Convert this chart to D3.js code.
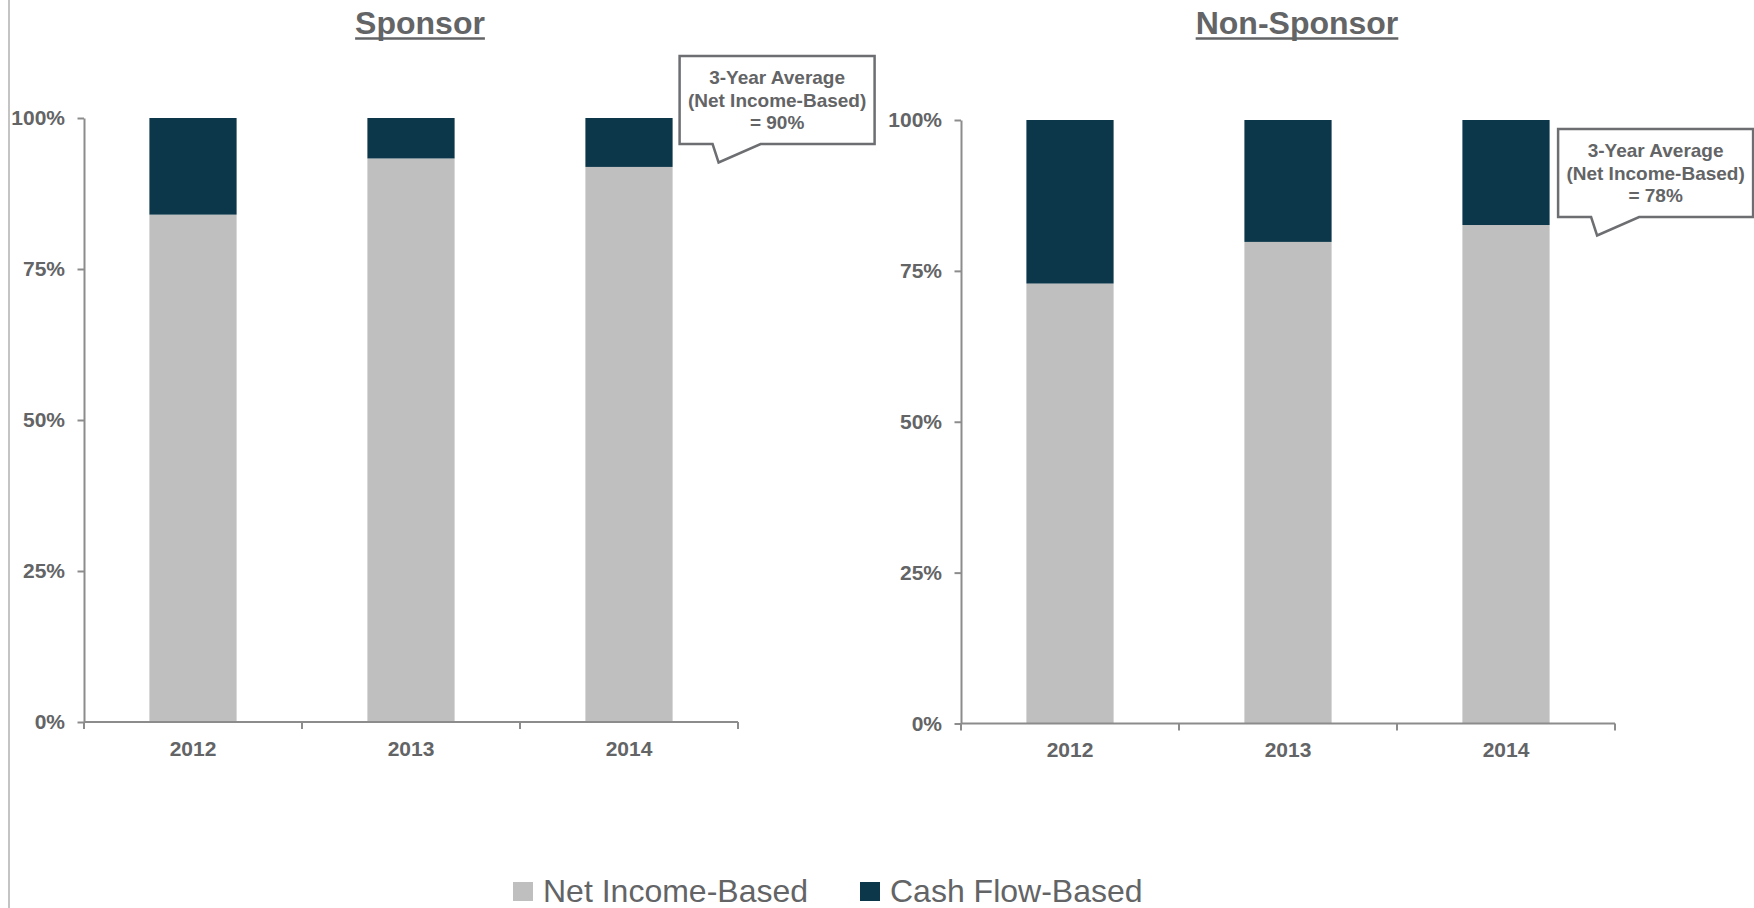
<!DOCTYPE html>
<html>
<head>
<meta charset="utf-8">
<script src="https://cdn.jsdelivr.net/npm/d3@7"></script>
<style>
  html, body { margin: 0; padding: 0; background: #ffffff; }
  svg { display: block; }
  text { font-family: "Liberation Sans", Arial, Helvetica, sans-serif; }
</style>
</head>
<body>
<svg id="chart" width="1754" height="908"></svg>
<script>
// ---- Data -------------------------------------------------------------
const years = ["2012", "2013", "2014"];
const seriesNames = ["Net Income-Based", "Cash Flow-Based"];

// Share of deals by covenant basis (%)
const sponsorNetIncome    = [84.0, 93.3, 91.9];
const sponsorCashFlow     = [16.0, 6.7, 8.1];
const nonSponsorNetIncome = [72.9, 79.8, 82.6];
const nonSponsorCashFlow  = [27.1, 20.2, 17.4];

const yTicks = [0, 25, 50, 75, 100];

// ---- Style ------------------------------------------------------------
const colors = { "Net Income-Based": "#bfbfbf", "Cash Flow-Based": "#0c3649" };
const textColor = "#636466";
const axisColor = "#8c8c8c";
const calloutStroke = "#6d6e71";

const svg = d3.select("#chart");

// Thin frame line on the left edge of the page
svg.append("line")
  .attr("x1", 9).attr("x2", 9).attr("y1", 0).attr("y2", 908)
  .attr("stroke", "#c4c4c4").attr("stroke-width", 2);

const panels = [
  {
    title: "Sponsor",
    netIncome: sponsorNetIncome,
    cashFlow: sponsorCashFlow,
    panelX: [9, 831],
    xRange: [84, 738],
    yRange: [722, 118],
    callout: { dx: 7, dy: -62 }
  },
  {
    title: "Non-Sponsor",
    netIncome: nonSponsorNetIncome,
    cashFlow: nonSponsorCashFlow,
    panelX: [840, 1754],
    xRange: [961, 1615],
    yRange: [723.5, 120],
    callout: { dx: 8.5, dy: 9 }
  }
];

panels.forEach(p => {
  const g = svg.append("g");

  const x = d3.scaleBand().domain(years).range(p.xRange)
    .paddingInner(0.6).paddingOuter(0.3);
  const y = d3.scaleLinear().domain([0, 100]).range(p.yRange);

  // Table for stacking
  const rows = years.map((yr, i) => ({
    year: yr,
    "Net Income-Based": p.netIncome[i],
    "Cash Flow-Based": p.cashFlow[i]
  }));
  const stacked = d3.stack().keys(seriesNames)(rows);

  // Title with underline
  const cx = (p.panelX[0] + p.panelX[1]) / 2;
  const title = g.append("text")
    .attr("x", cx).attr("y", 33.5)
    .attr("text-anchor", "middle")
    .attr("font-size", 32).attr("font-weight", "bold")
    .attr("fill", textColor)
    .text(p.title);
  const tw = title.node().getComputedTextLength();
  g.append("line")
    .attr("x1", cx - tw / 2).attr("x2", cx + tw / 2)
    .attr("y1", 38.5).attr("y2", 38.5)
    .attr("stroke", textColor).attr("stroke-width", 2.6);

  // Stacked bars
  g.selectAll("g.series").data(stacked).join("g")
    .attr("class", "series")
    .attr("fill", d => colors[d.key])
    .selectAll("rect").data(d => d).join("rect")
      .attr("x", d => x(d.data.year))
      .attr("width", x.bandwidth())
      .attr("y", d => y(d[1]))
      .attr("height", d => y(d[0]) - y(d[1]));

  // Y axis
  const yAxis = g.append("g")
    .attr("transform", `translate(${p.xRange[0]},0)`)
    .call(d3.axisLeft(y).tickValues(yTicks)
      .tickFormat(d => d + "%")
      .tickSize(6.5).tickSizeOuter(0).tickPadding(12.5));
  yAxis.select(".domain").attr("stroke", axisColor).attr("stroke-width", 2);
  yAxis.selectAll(".tick line").attr("stroke", axisColor).attr("stroke-width", 2);
  yAxis.selectAll(".tick text")
    .attr("fill", textColor).attr("font-size", 21).attr("font-weight", "bold")
    .attr("font-family", "'Liberation Sans', Arial, sans-serif");

  // X axis: labels under bars, tick marks between categories
  const y0 = y(0);
  const xAxis = g.append("g")
    .attr("transform", `translate(0,${y0})`)
    .call(d3.axisBottom(x).tickSize(0).tickSizeOuter(0).tickPadding(19));
  xAxis.select(".domain").remove();
  xAxis.selectAll(".tick text")
    .attr("fill", textColor).attr("font-size", 21).attr("font-weight", "bold")
    .attr("font-family", "'Liberation Sans', Arial, sans-serif");

  g.append("line")
    .attr("x1", p.xRange[0]).attr("x2", p.xRange[1])
    .attr("y1", y0).attr("y2", y0)
    .attr("stroke", axisColor).attr("stroke-width", 2);

  const boundaries = d3.range(years.length + 1).map(i => p.xRange[0] + i * x.step());
  g.selectAll("line.xtick").data(boundaries).join("line")
    .attr("class", "xtick")
    .attr("x1", d => d).attr("x2", d => d)
    .attr("y1", y0).attr("y2", y0 + 7)
    .attr("stroke", axisColor).attr("stroke-width", 2);

  // Callout with the three-year average of the net-income share
  const avg = Math.round(d3.mean(p.netIncome));
  const lastYear = years[years.length - 1];
  const bx = x(lastYear) + x.bandwidth() + p.callout.dx;
  const by = y(100) + p.callout.dy;
  const bw = 195, bh = 88;
  const path = d3.path();
  path.moveTo(bx, by);
  path.lineTo(bx + bw, by);
  path.lineTo(bx + bw, by + bh);
  path.lineTo(bx + 81, by + bh);
  path.lineTo(bx + 39, by + bh + 18.5);
  path.lineTo(bx + 33, by + bh);
  path.lineTo(bx, by + bh);
  path.closePath();
  g.append("path")
    .attr("d", path.toString())
    .attr("fill", "#ffffff")
    .attr("stroke", calloutStroke).attr("stroke-width", 2.5)
    .attr("stroke-linejoin", "miter");

  const lines = ["3-Year Average", "(Net Income-Based)", `= ${avg}%`];
  g.selectAll("text.callout").data(lines).join("text")
    .attr("class", "callout")
    .attr("x", bx + 97.5)
    .attr("y", (d, i) => by + 28 + i * 22.5)
    .attr("text-anchor", "middle")
    .attr("font-size", 19).attr("font-weight", "bold")
    .attr("fill", textColor)
    .text(d => d);
});

// ---- Legend -------------------------------------------------------------
const legendItems = [
  { name: seriesNames[0], x: 513 },
  { name: seriesNames[1], x: 860 }
];
const legend = svg.append("g");
const li = legend.selectAll("g").data(legendItems).join("g")
  .attr("transform", d => `translate(${d.x},882)`);
li.append("rect")
  .attr("width", 20).attr("height", 19)
  .attr("fill", d => colors[d.name]);
li.append("text")
  .attr("x", 30).attr("y", 19.5)
  .attr("font-size", 32)
  .attr("fill", textColor)
  .text(d => d.name);
</script>
</body>
</html>
